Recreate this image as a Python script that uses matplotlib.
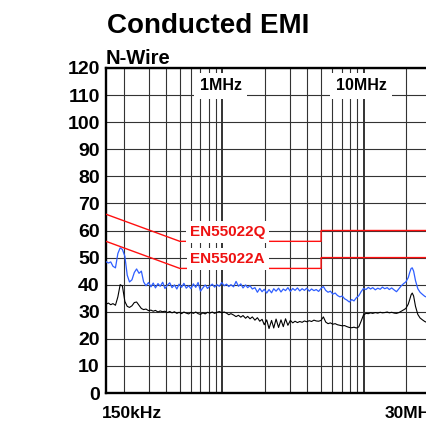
import matplotlib
matplotlib.use("Agg")
import matplotlib.pyplot as plt
from matplotlib.ticker import LogLocator, NullFormatter, FixedLocator

plt.rcParams['font.family'] = ['Liberation Sans', 'DejaVu Sans']

# ---------------- data ----------------
freq_mhz = [0.150, 0.156, 0.162, 0.168, 0.175, 0.182, 0.189, 0.196, 0.204, 0.212,
            0.220, 0.229, 0.238, 0.247, 0.257, 0.267, 0.277, 0.288, 0.300, 0.312,
            0.324, 0.336, 0.350, 0.363, 0.378, 0.392, 0.408, 0.424, 0.440, 0.458,
            0.476, 0.494, 0.514, 0.534, 0.555, 0.577, 0.600, 0.623, 0.648, 0.673,
            0.700, 0.727, 0.756, 0.785, 0.816, 0.848, 0.881, 0.916, 0.952, 0.989,
            1.03, 1.07, 1.11, 1.15, 1.20, 1.25, 1.30, 1.35, 1.40, 1.46,
            1.51, 1.57, 1.63, 1.70, 1.77, 1.84, 1.91, 1.98, 2.06, 2.14,
            2.23, 2.31, 2.40, 2.50, 2.60, 2.70, 2.80, 2.91, 3.03, 3.15,
            3.27, 3.40, 3.53, 3.67, 3.81, 3.96, 4.12, 4.28, 4.45, 4.62,
            4.80, 4.99, 5.19, 5.39, 5.60, 5.82, 6.05, 6.29, 6.53, 6.79,
            7.06, 7.33, 7.62, 7.92, 8.23, 8.55, 8.89, 9.24, 9.60, 9.98,
            10.4, 10.8, 11.2, 11.6, 12.1, 12.6, 13.1, 13.6, 14.1, 14.7,
            15.2, 15.8, 16.5, 17.1, 17.8, 18.5, 19.2, 19.9, 20.7, 21.2,
            21.7, 22.1, 22.6, 23.3, 24.2, 25.1, 26.1, 27.1, 28.2, 29.3,
            30.0]

peak_dbuv = [48.5, 48.0, 48.4, 46.8, 46.2, 51.5, 53.6, 53.0, 50.5, 43.5,
             41.0, 41.8, 44.5, 45.8, 44.2, 45.0, 41.0, 39.6, 40.8, 39.2,
             40.6, 38.8, 40.4, 39.4, 40.9, 38.6, 39.8, 40.7, 38.9, 39.9,
             38.4, 40.2, 39.0, 40.5, 38.7, 39.6, 38.5, 40.3, 39.0, 40.8,
             37.6, 38.8, 39.9, 38.6, 39.5, 40.2, 39.1, 40.0, 39.4, 40.8,
             39.6, 40.2, 39.3, 40.0, 39.2, 41.2, 39.4, 40.3, 38.8, 39.9,
             38.9, 39.6, 38.4, 38.9, 37.2, 38.6, 37.4, 38.3, 36.9, 38.2,
             37.0, 38.5, 37.6, 38.7, 37.3, 38.4, 37.8, 38.9, 37.5, 38.6,
             37.9, 38.8, 37.7, 38.5, 37.9, 38.7, 37.6, 38.4, 37.8, 38.2,
             37.5, 38.6, 39.3, 37.9, 37.2, 37.6, 36.5, 36.9, 36.0, 35.5,
             35.8, 34.8, 34.3, 33.6, 34.5, 34.0, 35.2, 35.9, 37.4, 38.6,
             38.2, 39.0, 38.4, 38.9, 38.1, 38.7, 38.3, 39.1, 38.5, 38.9,
             38.2, 38.8, 38.0, 37.4, 38.5, 39.6, 40.4, 41.0, 42.6, 44.5,
             46.0, 46.2, 45.0, 41.5, 38.5, 37.2, 36.4, 35.7, 35.3, 35.0,
             35.0]

avg_dbuv = [32.8, 33.2, 32.6, 33.0, 32.4, 35.5, 40.0, 39.5, 33.8, 32.0,
            31.6, 32.2, 33.4, 33.6, 32.4, 31.2, 30.8, 31.0, 30.4, 30.6,
            30.2, 30.5, 29.9, 30.3, 30.0, 30.2, 29.7, 30.1, 29.6, 30.0,
            29.4, 29.8, 29.3, 29.9, 29.5, 29.2, 29.8, 29.4, 29.9, 29.3,
            29.0, 29.6, 29.2, 29.8, 29.5, 29.9, 29.4, 29.8, 30.1, 29.6,
            29.9, 29.5, 28.9, 29.3, 28.8, 28.2, 28.7, 28.0, 28.6, 27.6,
            28.3, 27.4, 28.1, 26.9, 27.8, 26.5, 27.2, 25.2, 27.0, 23.8,
            26.8, 24.0, 27.3, 24.2, 27.0, 24.5, 27.4, 25.0, 26.8, 25.9,
            26.5, 26.0, 26.4, 26.1, 26.6, 26.3, 26.7, 26.4, 26.9, 26.6,
            26.5, 26.8, 28.1, 26.2, 25.6, 25.9, 25.4, 25.6, 25.2, 25.0,
            24.8, 24.9, 24.5, 24.2, 24.1, 24.3, 24.0, 24.4, 26.5, 28.8,
            29.4, 29.3, 29.6, 29.4, 29.7, 29.5, 29.8, 29.6, 29.7, 29.9,
            29.6, 29.8, 29.5, 29.4, 29.7, 30.2, 30.7, 31.2, 32.8, 34.5,
            36.3, 36.9, 35.8, 32.0, 29.0, 27.7, 27.0, 26.4, 26.0, 25.8,
            25.7]

limit_freq_mhz = [0.15, 0.5, 5.0, 5.0, 30.0]
limit_qp_dbuv = [66, 56, 56, 60, 60]
limit_av_dbuv = [56, 46, 46, 50, 50]

y_ticks = [0, 10, 20, 30, 40, 50, 60, 70, 80, 90, 100, 110, 120]

# ---------------- figure ----------------
W, H = 427, 428
fig = plt.figure(figsize=(W / 100, H / 100), dpi=100)
ax = fig.add_axes([106 / W, 1 - 393 / H, (431 - 106) / W, (393 - 68) / H])

ax.set_xscale('log')
ax.set_xlim(0.15, 30.0)
ax.set_ylim(0, 120)

# grid
ax.xaxis.set_major_locator(FixedLocator([1.0, 10.0]))
ax.xaxis.set_minor_locator(LogLocator(base=10, subs=[2, 3, 4, 5, 6, 7, 8, 9], numticks=20))
ax.xaxis.set_major_formatter(NullFormatter())
ax.xaxis.set_minor_formatter(NullFormatter())
ax.yaxis.set_major_locator(FixedLocator(y_ticks))
ax.set_axisbelow(True)
ax.grid(which='major', axis='x', color='#111111', linewidth=1.2)
ax.grid(which='minor', axis='x', color='#333333', linewidth=0.8)
ax.grid(which='major', axis='y', color='#333333', linewidth=0.8)

ax.tick_params(axis='both', which='both', length=0)
ax.tick_params(axis='y', pad=4.5, labelsize=14)
for lab in ax.get_yticklabels():
    lab.set_fontweight('bold')

for side in ['left', 'bottom', 'top']:
    ax.spines[side].set_linewidth(1.7)
    ax.spines[side].set_color('black')
ax.spines['right'].set_visible(False)

# traces
ax.plot(freq_mhz, peak_dbuv, color='#2f5fff', linewidth=0.9, zorder=3)
ax.plot(freq_mhz, avg_dbuv, color='black', linewidth=0.8, zorder=3)

# limit lines
ax.plot(limit_freq_mhz, limit_qp_dbuv, color='#ff1010', linewidth=1.0, zorder=4)
ax.plot(limit_freq_mhz, limit_av_dbuv, color='#ff1010', linewidth=1.0, zorder=4)

# labels inside plot
box = dict(facecolor='white', edgecolor='none', boxstyle='square,pad=0.25')
ax.text(1.09, 60, 'EN55022Q', color='#ee1111', fontsize=11, fontweight='bold',
        ha='center', va='center_baseline', bbox=box, zorder=5)
ax.text(1.09, 50, 'EN55022A', color='#ee1111', fontsize=11, fontweight='bold',
        ha='center', va='center_baseline', bbox=box, zorder=5)

box2 = dict(facecolor='white', edgecolor='none', boxstyle='square,pad=0.35')
ax.text(0.97, 114, '1MHz', color='black', fontsize=11.5, fontweight='bold',
        ha='center', va='center_baseline', bbox=box2, zorder=5)
ax.text(9.6, 114, '10MHz', color='black', fontsize=11.5, fontweight='bold',
        ha='center', va='center_baseline', bbox=box2, zorder=5)

# titles and axis labels
fig.text(107 / W, 1 - 33 / H, 'Conducted EMI', fontsize=20, fontweight='bold',
         ha='left', va='baseline')
fig.text(106 / W, 1 - 64 / H, 'N-Wire', fontsize=14.5, fontweight='bold',
         ha='left', va='baseline')
fig.text(102 / W, 1 - 418 / H, '150kHz', fontsize=12.5, fontweight='bold',
         ha='left', va='baseline')
fig.text(385 / W, 1 - 418 / H, '30MHz', fontsize=12.5, fontweight='bold',
         ha='left', va='baseline')

fig.savefig('out.png', dpi=100)
